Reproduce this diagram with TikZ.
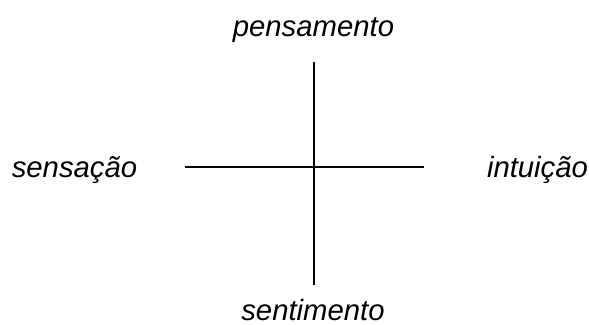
\documentclass[tikz,border=0pt]{standalone}
\usepackage{fontspec}
\setmainfont{Liberation Sans}
\begin{document}
\begin{tikzpicture}[x=1pt,y=-1pt,
  lbl/.style={inner sep=0pt,anchor=base,font=\fontsize{29.3}{35}\selectfont\itshape},
  axis/.style={line width=1.5pt,black}]
\useasboundingbox (0,0) rectangle (589,324);
\node[lbl] (pens) at (313.5,36) {pensamento};
\node[lbl] (sens) at (74.5,177) {sensação};
\node[lbl] (intu) at (537.5,177) {intuição};
\node[lbl] (sent) at (313,320) {sentimento};
\coordinate (top) at (314,62);
\coordinate (bot) at (314,285);
\coordinate (lft) at (185,167);
\coordinate (rgt) at (424,167);
\draw[axis] (top) -- (bot);
\draw[axis] (lft) -- (rgt);
\end{tikzpicture}
\end{document}
